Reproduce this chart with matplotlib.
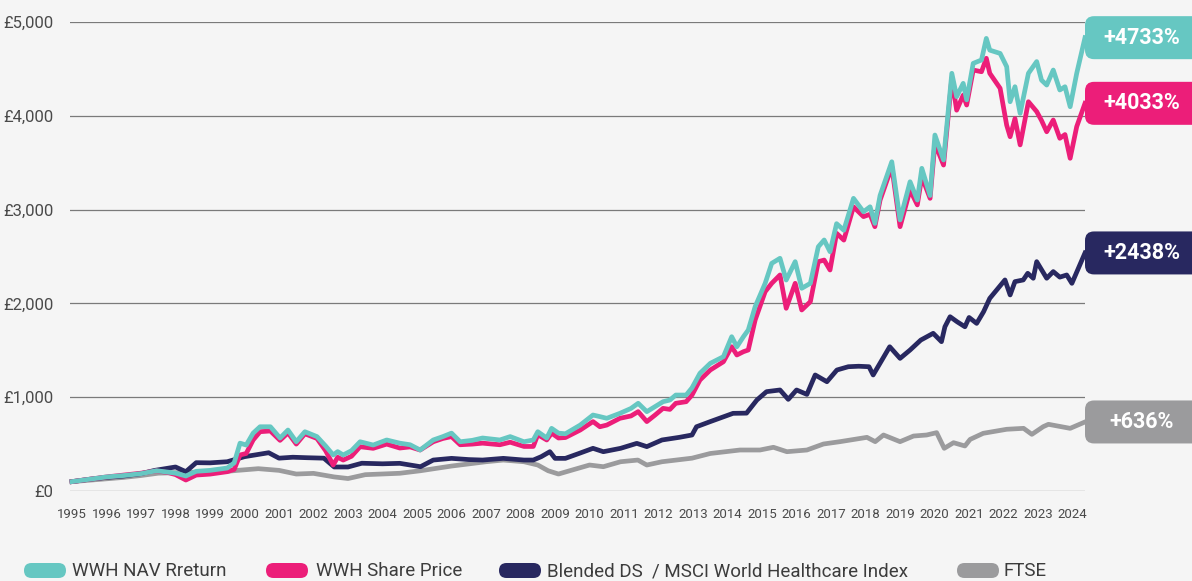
import matplotlib
matplotlib.use("Agg")
import matplotlib.pyplot as plt
from matplotlib.patches import FancyBboxPatch
from matplotlib.transforms import IdentityTransform
from matplotlib.ticker import FuncFormatter

# values of £100 invested
wwh_dates = [1995.0, 1995.5, 1996.0, 1996.5, 1997.0, 1997.45, 1997.8, 1998.0, 1998.3, 1998.6,
             1999.0, 1999.5, 1999.7, 1999.87, 2000.05, 2000.25, 2000.45, 2000.75, 2001.03, 2001.26,
             2001.5, 2001.75, 2002.1, 2002.35, 2002.57, 2002.7, 2002.86, 2003.1, 2003.35, 2003.73,
             2004.12, 2004.5, 2004.8, 2005.09, 2005.47, 2005.75, 2006.0, 2006.25, 2006.6, 2006.9,
             2007.4, 2007.7, 2008.1, 2008.37, 2008.5, 2008.76, 2008.9, 2009.1, 2009.3, 2009.73,
             2010.1, 2010.3, 2010.5, 2010.88, 2011.2, 2011.41, 2011.66, 2011.9, 2012.13, 2012.33,
             2012.5, 2012.8, 2012.97, 2013.2, 2013.5, 2013.88, 2014.12, 2014.27, 2014.46, 2014.6,
             2014.8, 2015.09, 2015.28, 2015.52, 2015.7, 2015.96, 2016.15, 2016.4, 2016.63, 2016.8,
             2016.97, 2017.16, 2017.37, 2017.65, 2017.94, 2018.13, 2018.27, 2018.42, 2018.76, 2019.0,
             2019.29, 2019.5, 2019.63, 2019.87, 2020.01, 2020.26, 2020.5, 2020.64, 2020.83, 2020.93,
             2021.12, 2021.36, 2021.5, 2021.6, 2021.9, 2022.09, 2022.19, 2022.33, 2022.48, 2022.72,
             2022.96, 2023.1, 2023.25, 2023.44, 2023.63, 2023.78, 2023.93, 2024.12, 2024.36]

nav_return = [100, 125, 150, 165, 185, 216, 200, 190, 160, 210,
              220, 245, 300, 510, 490, 617, 685, 685, 565, 650,
              525, 632, 580, 480, 384, 420, 384, 430, 525, 490,
              544, 510, 493, 437, 544, 580, 617, 525, 540, 565,
              544, 580, 525, 544, 632, 565, 668, 617, 610, 703,
              810, 793, 775, 828, 880, 935, 846, 900, 952, 970,
              1023, 1023, 1100, 1255, 1361, 1432, 1645, 1538, 1645, 1716,
              1965, 2214, 2427, 2481, 2249, 2445, 2161, 2214, 2604, 2676,
              2551, 2850, 2780, 3120, 2977, 3030, 2853, 3150, 3510, 2890,
              3297, 3102, 3440, 3150, 3795, 3529, 4453, 4204, 4346, 4170,
              4559, 4595, 4825, 4700, 4665, 4524, 4150, 4310, 4026, 4453,
              4578, 4380, 4328, 4488, 4275, 4310, 4097, 4453, 4833]

share_price = [100, 125, 150, 170, 190, 215, 195, 175, 117, 170,
               180, 206, 230, 384, 400, 544, 632, 640, 540, 620,
               500, 610, 560, 430, 277, 360, 330, 370, 472, 455,
               500, 458, 470, 437, 525, 560, 580, 493, 500, 510,
               493, 520, 475, 475, 600, 544, 617, 565, 570, 650,
               740, 685, 703, 775, 800, 846, 740, 810, 881, 870,
               935, 952, 1023, 1183, 1290, 1378, 1538, 1450, 1485, 1503,
               1823, 2125, 2214, 2303, 1948, 2214, 1930, 2018, 2445, 2462,
               2356, 2747, 2675, 3030, 2925, 2950, 2818, 3100, 3457, 2818,
               3209, 3050, 3350, 3120, 3707, 3475, 4400, 4060, 4220, 4115,
               4488, 4470, 4613, 4453, 4293, 3900, 3777, 3970, 3690, 4150,
               4045, 3950, 3830, 3955, 3760, 3800, 3547, 3885, 4133]

blended_dates = [1995.0, 1995.5, 1996.0, 1996.5, 1997.0, 1997.4, 1998.0, 1998.3, 1998.6, 1999.0,
                 1999.5, 2000.0, 2000.7, 2001.0, 2001.4, 2001.8, 2002.3, 2002.6, 2003.0, 2003.4,
                 2004.0, 2004.5, 2005.1, 2005.47, 2006.0, 2006.5, 2006.9, 2007.5, 2008.1, 2008.37,
                 2008.6, 2008.85, 2009.0, 2009.3, 2009.7, 2010.1, 2010.4, 2010.9, 2011.37, 2011.66,
                 2012.1, 2012.6, 2012.97, 2013.1, 2013.5, 2014.16, 2014.55, 2014.85, 2015.13, 2015.52,
                 2015.76, 2016.0, 2016.3, 2016.54, 2016.88, 2017.17, 2017.5, 2017.8, 2018.1, 2018.22,
                 2018.7, 2019.0, 2019.29, 2019.6, 2019.96, 2020.2, 2020.3, 2020.45, 2020.65, 2020.88,
                 2021.0, 2021.22, 2021.42, 2021.6, 2021.8, 2022.04, 2022.19, 2022.33, 2022.57, 2022.7,
                 2022.86, 2022.96, 2023.25, 2023.44, 2023.63, 2023.83, 2023.98, 2024.36]
blended_index = [100, 125, 145, 160, 185, 220, 256, 206, 302, 300,
                 312, 366, 408, 350, 360, 355, 350, 256, 256, 296,
                 290, 295, 259, 330, 348, 335, 330, 348, 330, 330,
                 366, 419, 348, 348, 401, 455, 419, 455, 508, 473,
                 544, 572, 597, 685, 740, 828, 830, 970, 1059, 1077,
                 977, 1077, 1030, 1237, 1165, 1290, 1325, 1330, 1325, 1237,
                 1538, 1414, 1503, 1609, 1681, 1592, 1751, 1858, 1805, 1751,
                 1850, 1787, 1911, 2054, 2143, 2250, 2090, 2232, 2250, 2321,
                 2268, 2445, 2268, 2339, 2280, 2303, 2214, 2538]

ftse_dates = [1995.0, 1995.5, 1996.0, 1996.5, 1997.0, 1997.5, 1998.0, 1998.5, 1999.0, 1999.5,
              1999.8, 2000.4, 2001.0, 2001.5, 2002.0, 2002.6, 2003.0, 2003.5, 2004.5, 2005.1,
              2006.0, 2007.0, 2007.5, 2008.1, 2008.5, 2008.8, 2009.1, 2009.5, 2010.0, 2010.4,
              2010.9, 2011.4, 2011.66, 2012.1, 2012.97, 2013.5, 2014.36, 2014.94, 2015.33, 2015.72,
              2016.3, 2016.78, 2017.26, 2018.04, 2018.28, 2018.52, 2019.0, 2019.39, 2019.77, 2020.06,
              2020.28, 2020.55, 2020.88, 2021.03, 2021.41, 2022.09, 2022.58, 2022.82, 2023.15, 2023.3,
              2023.93, 2024.36]
ftse = [100, 115, 130, 145, 165, 190, 195, 200, 200, 210,
        220, 238, 220, 181, 188, 150, 133, 174, 189, 216,
        266, 312, 330, 312, 277, 216, 181, 224, 277, 259,
        312, 330, 277, 312, 350, 400, 437, 437, 466, 419,
        437, 501, 526, 572, 526, 597, 526, 586, 597, 622,
        455, 515, 480, 550, 615, 658, 668, 604, 686, 711,
        668, 736]

series_names = ["WWH NAV Rreturn", "WWH Share Price",
                "Blended DS  / MSCI World Healthcare Index", "FTSE"]
series_colors = ["#66C7C2", "#EC1E79", "#282860", "#9B9B9D"]
end_labels = ["+4733%", "+4033%", "+2438%", "+636%"]
years = list(range(1995, 2025))

bg = "#F5F5F5"
plt.rcParams['font.family'] = ['Roboto', 'DejaVu Sans']

fig = plt.figure(figsize=(11.92, 5.81), dpi=100, facecolor=bg)
ax = fig.add_axes([70 / 1192, 1 - 491 / 581, 1015 / 1192, 469 / 581])
ax.set_facecolor(bg)

lw = 3.4
ax.plot(ftse_dates, ftse, color=series_colors[3], lw=lw, solid_joinstyle='round', zorder=3, clip_on=False)
ax.plot(blended_dates, blended_index, color=series_colors[2], lw=lw, solid_joinstyle='round', zorder=4, clip_on=False)
ax.plot(wwh_dates, share_price, color=series_colors[1], lw=lw, solid_joinstyle='round', zorder=5, clip_on=False)
ax.plot(wwh_dates, nav_return, color=series_colors[0], lw=lw, solid_joinstyle='round', zorder=6, clip_on=False)

ax.set_xlim(1995 - 2 / 34.5, wwh_dates[-1])
ax.set_ylim(0, 5000)
ax.set_yticks(range(0, 5001, 1000))
ax.yaxis.set_major_formatter(FuncFormatter(lambda v, p: "£{:,.0f}".format(v)))
ax.set_xticks(years)
ax.set_xticklabels([str(y) for y in years])
ax.tick_params(axis='y', length=0, pad=12, labelsize=12, labelcolor="#4A4A4A")
ax.tick_params(axis='x', length=0, pad=12, labelsize=9.5, labelcolor="#4A4A4A")
ax.yaxis.grid(True, color="#7A7A7A", lw=0.9, zorder=1)
for s in ax.spines.values():
    s.set_visible(False)

# end-of-line value boxes
fig.canvas.draw()
ends = [(wwh_dates[-1], nav_return[-1]), (wwh_dates[-1], share_price[-1]),
        (blended_dates[-1], blended_index[-1]), (ftse_dates[-1], ftse[-1])]
for (ex, ey), col, lab in zip(ends, series_colors, end_labels):
    px, py = ax.transData.transform((ex, ey))
    box = FancyBboxPatch((1085, py - 21.5), 140, 43,
                         boxstyle="round,pad=0,rounding_size=9",
                         transform=IdentityTransform(), facecolor=col, edgecolor='none', zorder=10)
    fig.add_artist(box)
    fig.text(1142 / 1192, py / 581, lab, ha='center', va='center', color='white',
             fontsize=15.5, fontweight='bold', zorder=11)

# legend along the bottom
legend_pills = [24, 266, 499, 957]
legend_texts = [72, 316, 547, 1003]
for name, col, pxl, tx in zip(series_names, series_colors, legend_pills, legend_texts):
    pill = FancyBboxPatch((pxl, 581 - 578), 42, 15, boxstyle="round,pad=0,rounding_size=7.5",
                          transform=IdentityTransform(), facecolor=col, edgecolor='none')
    fig.add_artist(pill)
    fig.text(tx / 1192, 4.5 / 581, name, ha='left', va='baseline', fontsize=13.5,
             color="#3C3C3C")

fig.savefig("out.png", dpi=100, facecolor=bg)
